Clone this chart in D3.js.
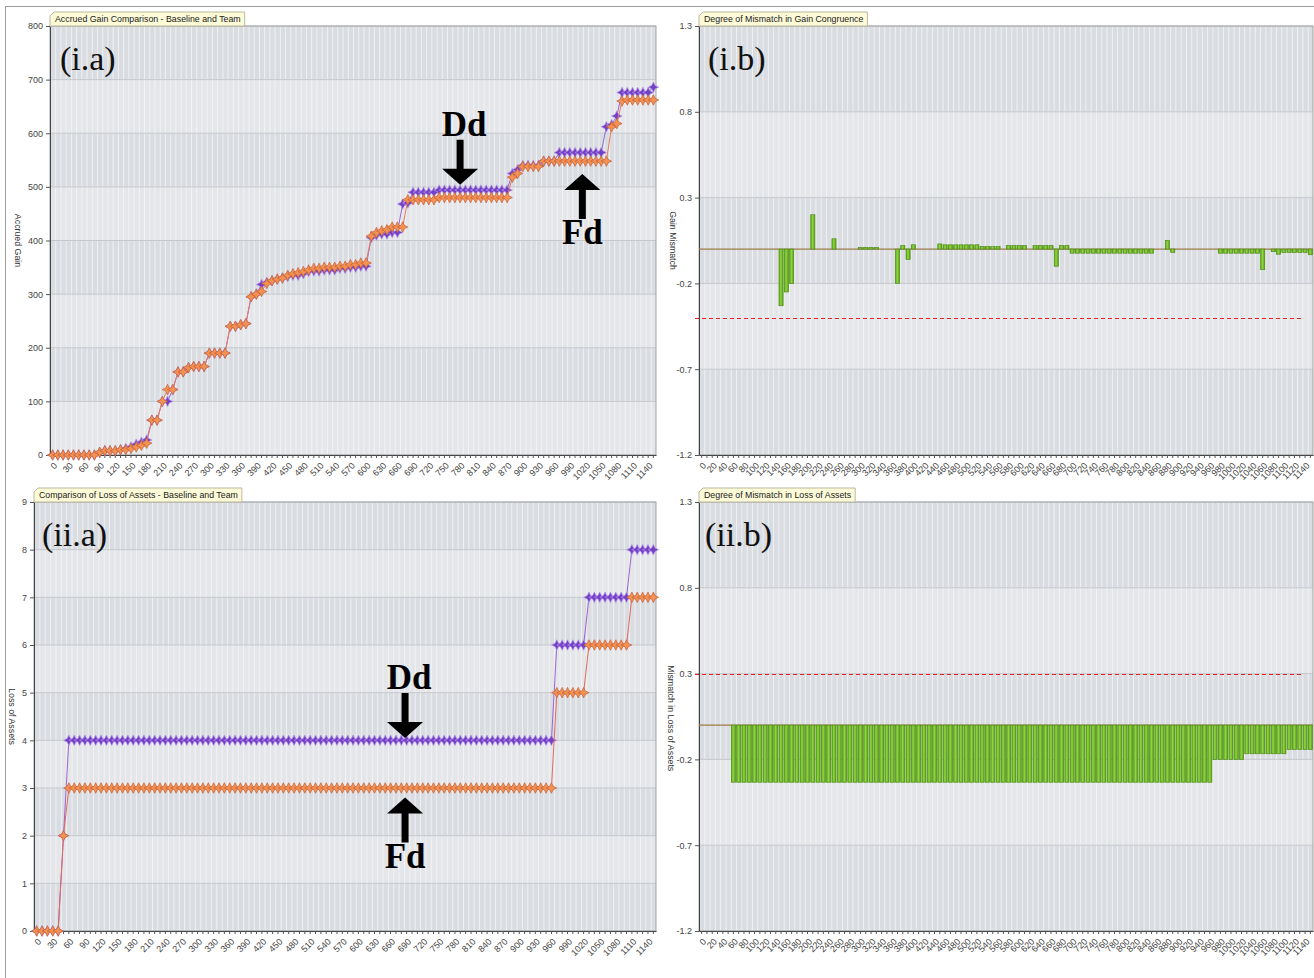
<!DOCTYPE html>
<html>
<head>
<meta charset="utf-8">
<script src="https://cdn.jsdelivr.net/npm/d3@7"></script>
<style>
body { margin: 0; background: #fff; }
svg { display: block; font-family: "Liberation Sans", Arial, sans-serif; }
</style>
</head>
<body>
<svg id="fig" width="1314" height="978"></svg>
<script>
// x categories shared by all four charts (time steps)
const categories = [
  0,10,20,30,40,50,60,70,80,90,100,110,120,130,140,150,160,170,180,190,
  200,210,220,230,240,250,260,270,280,290,300,310,320,330,340,350,360,370,380,390,
  400,410,420,430,440,450,460,470,480,490,500,510,520,530,540,550,560,570,580,590,
  600,610,620,630,640,650,660,670,680,690,700,710,720,730,740,750,760,770,780,790,
  800,810,820,830,840,850,860,870,880,890,900,910,920,930,940,950,960,970,980,990,
  1000,1010,1020,1030,1040,1050,1060,1070,1080,1090,1100,1110,1120,1130,1140,1150
];

// (i.a) accrued gain - purple series and orange series
const teamGain = [
  0,0,0,0,0,0,0,0,0,
  5,8,8,8,10,12,15,20,24,28,
  65,65,100,100,122,155,155,163,165,165,
  165,190,190,190,190,240,240,243,245,295,
  300,318,322,325,328,330,333,335,335,338,
  342,343,343,345,345,345,348,348,350,350,
  352,352,405,410,412,412,415,415,468,470,
  490,490,490,490,490,
  494,494,494,494,494,494,494,494,494,494,494,494,494,494,
  525,532,540,540,540,540,548,548,548,
  564,564,564,564,564,564,564,564,564,
  612,616,632,676,676,676,676,676,676,686
];
const baselineGain = [
  0,0,0,0,0,0,0,0,0,
  5,8,8,8,10,10,12,15,18,22,
  65,65,100,122,122,155,155,163,165,165,
  165,190,190,190,190,240,240,243,245,295,
  300,305,320,325,328,330,335,338,340,342,
  345,348,348,350,350,350,352,352,355,355,
  358,358,408,415,418,420,425,425,425,476,
  476,476,476,476,476,
  480,480,480,480,480,480,480,480,480,480,480,480,480,480,
  518,525,538,538,538,538,548,548,548,
  548,548,548,548,548,548,548,548,548,
  548,612,618,660,662,662,662,662,662,662
];

// (i.b) degree of mismatch in gain congruence
const gainMismatch = [
  0,0,0,0,0,0,0,0,0,0,0,0,0,0,0,
  -0.33,-0.25,-0.2,
  0,0,0,
  0.2,
  0,0,0,
  0.06,
  0,0,0,0,
  0.01,0.01,0.01,0.01,
  0,0,0,
  -0.2,0.02,-0.06,0.025,
  0,0,0,0,
  0.03,0.025,0.025,0.025,
  0.025,0.025,0.025,0.025,
  0.015,0.015,0.015,0.015,
  0,
  0.02,0.02,0.02,0.02,
  0,
  0.02,0.02,0.02,0.02,
  -0.1,0.02,0.02,
  -0.024,-0.024,-0.024,-0.024,-0.024,-0.024,-0.024,-0.024,
  -0.024,-0.024,-0.024,-0.024,-0.024,-0.024,-0.024,-0.024,
  0,0,
  0.05,-0.02,
  0,0,0,0,0,0,0,0,
  -0.024,-0.024,-0.024,-0.024,-0.024,-0.024,-0.024,-0.024,
  -0.12,0,-0.015,-0.03,
  -0.02,-0.02,-0.02,-0.02,-0.02,
  -0.033
];

// (ii.a) loss of assets - purple series and orange series
const teamLoss = [
  0,0,0,0,0,2,
  4,4,4,4,4,4,4,4,4,4, 4,4,4,4,4,4,4,4,4,4, 4,4,4,4,4,4,4,4,4,4,
  4,4,4,4,4,4,4,4,4,4, 4,4,4,4,4,4,4,4,4,4, 4,4,4,4,4,4,4,4,4,4,
  4,4,4,4,4,4,4,4,4,4, 4,4,4,4,4,4,4,4,4,4, 4,4,4,4,4,4,4,4,4,4,
  4,
  6,6,6,6,6,6,
  7,7,7,7,7,7,7,7,
  8,8,8,8,8
];
const baselineLoss = [
  0,0,0,0,0,2,
  3,3,3,3,3,3,3,3,3,3, 3,3,3,3,3,3,3,3,3,3, 3,3,3,3,3,3,3,3,3,3,
  3,3,3,3,3,3,3,3,3,3, 3,3,3,3,3,3,3,3,3,3, 3,3,3,3,3,3,3,3,3,3,
  3,3,3,3,3,3,3,3,3,3, 3,3,3,3,3,3,3,3,3,3, 3,3,3,3,3,3,3,3,3,3,
  3,
  5,5,5,5,5,5,
  6,6,6,6,6,6,6,6,
  7,7,7,7,7
];

// (ii.b) degree of mismatch in loss of assets
const lossMismatch = [
  0,0,0,0,0,0,
  -0.333,-0.333,-0.333,-0.333,-0.333,-0.333,-0.333,-0.333,-0.333,-0.333,
  -0.333,-0.333,-0.333,-0.333,-0.333,-0.333,-0.333,-0.333,-0.333,-0.333,
  -0.333,-0.333,-0.333,-0.333,-0.333,-0.333,-0.333,-0.333,-0.333,-0.333,
  -0.333,-0.333,-0.333,-0.333,-0.333,-0.333,-0.333,-0.333,-0.333,-0.333,
  -0.333,-0.333,-0.333,-0.333,-0.333,-0.333,-0.333,-0.333,-0.333,-0.333,
  -0.333,-0.333,-0.333,-0.333,-0.333,-0.333,-0.333,-0.333,-0.333,-0.333,
  -0.333,-0.333,-0.333,-0.333,-0.333,-0.333,-0.333,-0.333,-0.333,-0.333,
  -0.333,-0.333,-0.333,-0.333,-0.333,-0.333,-0.333,-0.333,-0.333,-0.333,
  -0.333,-0.333,-0.333,-0.333,-0.333,-0.333,-0.333,-0.333,-0.333,-0.333,
  -0.333,
  -0.2,-0.2,-0.2,-0.2,-0.2,-0.2,
  -0.167,-0.167,-0.167,-0.167,-0.167,-0.167,-0.167,-0.167,
  -0.143,-0.143,-0.143,-0.143,-0.143
];

// tick values
const gainTicks = [0,100,200,300,400,500,600,700,800];
const lossTicks = [0,1,2,3,4,5,6,7,8,9];
const mismatchTicks = [-1.2,-0.7,-0.2,0.3,0.8,1.3];

const svg = d3.select("#fig");

// gradient for the green bars
const grad = svg.append("defs").append("linearGradient")
  .attr("id", "barGrad").attr("x1", 0).attr("x2", 1).attr("y1", 0).attr("y2", 0);
grad.append("stop").attr("offset", "0%").attr("stop-color", "#5aa418");
grad.append("stop").attr("offset", "45%").attr("stop-color", "#8fd640");
grad.append("stop").attr("offset", "100%").attr("stop-color", "#589c17");

// outer figure frame
svg.append("rect")
  .attr("x", 5.5).attr("y", 6.5).attr("width", 1340).attr("height", 1000)
  .attr("fill", "none").attr("stroke", "#9d9d9d");

// 4-pointed star marker
const star4 = {
  draw(ctx, size) {
    const r = Math.sqrt(size) / 2, k = r * 0.33;
    ctx.moveTo(0, -r); ctx.lineTo(k, -k); ctx.lineTo(r, 0); ctx.lineTo(k, k);
    ctx.lineTo(0, r); ctx.lineTo(-k, k); ctx.lineTo(-r, 0); ctx.lineTo(-k, -k);
    ctx.closePath();
  }
};

// draws background, grid, axes, title tab and labels of one chart
function panel(p) {
  const g = svg.append("g");
  const x = d3.scaleBand().domain(categories).range([p.left, p.right]);
  const y = d3.scaleLinear().domain([p.ticks[0], p.ticks[p.ticks.length - 1]]).range([p.bottom, p.top]);

  // alternating horizontal bands
  const bands = d3.pairs(p.ticks);
  g.append("g").selectAll("rect").data(bands).join("rect")
    .attr("x", p.left).attr("width", p.right - p.left)
    .attr("y", d => y(d[1])).attr("height", d => y(d[0]) - y(d[1]))
    .attr("fill", (d, i) => (bands.length - 1 - i) % 2 ? "#e4e6e9" : "#d9dce0");

  // light vertical stripes, one per category
  g.append("g").selectAll("line").data(categories).join("line")
    .attr("x1", d => x(d) + 0.5).attr("x2", d => x(d) + 0.5)
    .attr("y1", p.top).attr("y2", p.bottom)
    .attr("stroke", "#f4f5f7").attr("stroke-opacity", 0.85);

  // horizontal gridlines
  g.append("g").selectAll("line").data(p.ticks).join("line")
    .attr("x1", p.left).attr("x2", p.right)
    .attr("y1", d => y(d)).attr("y2", d => y(d))
    .attr("stroke", "#c5c8cd");

  // plot frame
  g.append("rect")
    .attr("x", p.left).attr("y", p.top)
    .attr("width", p.right - p.left).attr("height", p.bottom - p.top)
    .attr("fill", "none").attr("stroke", "#a3a3a3");

  // x axis: a tick per category, a label every few
  const xAxis = g.append("g")
    .attr("transform", "translate(0," + p.bottom + ")")
    .call(d3.axisBottom(x).tickSize(3).tickSizeOuter(0)
      .tickFormat((d, i) => i % p.every === 0 ? d : ""));
  xAxis.selectAll("text")
    .attr("y", 0).attr("dy", "0.35em")
    .attr("transform", "translate(3,9) rotate(-45)")
    .style("text-anchor", "end");

  // y axis
  const yAxis = g.append("g")
    .attr("transform", "translate(" + p.left + ",0)")
    .call(d3.axisLeft(y).tickValues(p.ticks).tickSize(4).tickSizeOuter(0).tickFormat(d => d));

  [xAxis, yAxis].forEach(a => {
    a.attr("font-family", null).attr("font-size", null);
    a.selectAll("text").attr("fill", "#444").attr("font-size", 9);
    a.selectAll("line").attr("stroke", "#555");
    a.select(".domain").attr("stroke", "#444");
  });

  // y axis title
  g.append("text")
    .attr("transform", "translate(" + p.yTitleX + "," + y(p.yTitleAt) + ") rotate(90)")
    .attr("text-anchor", "middle").attr("dy", "0.35em")
    .attr("font-size", 8.8).attr("fill", "#333")
    .text(p.yTitle);

  // title tab above the plot
  const tab = g.append("g").attr("transform", "translate(" + p.left + "," + p.top + ")");
  const tt = tab.append("text")
    .attr("x", 5).attr("y", -4)
    .attr("font-size", 8.8).attr("fill", "#222")
    .text(p.title);
  const tw = tt.node().getComputedTextLength() + 9;
  tab.insert("path", "text")
    .attr("d", "M0,0V-10L4,-14H" + tw + "V0Z")
    .attr("fill", "#fcfad7").attr("stroke", "#bdb9a0");

  // panel tag like (i.a)
  g.append("text")
    .attr("x", p.left + p.tagDx).attr("y", p.top + 44)
    .attr("font-family", "'Liberation Serif', 'Times New Roman', serif")
    .attr("font-size", 34).attr("fill", "#111")
    .text(p.tag);

  return { g, x, y };
}

function drawSeries(c, values, lineColor, fill, edge) {
  const cx = (d, i) => c.x(categories[i]) + c.x.bandwidth() / 2;
  c.g.append("path").datum(values)
    .attr("d", d3.line().x(cx).y(d => c.y(d)))
    .attr("fill", "none").attr("stroke", lineColor).attr("stroke-width", 1);
  c.g.append("g").selectAll("path").data(values).join("path")
    .attr("transform", (d, i) => "translate(" + cx(d, i) + "," + c.y(d) + ")")
    .attr("d", d3.symbol(star4, 110))
    .attr("fill", fill).attr("stroke", edge).attr("stroke-width", 0.7);
}

function drawBars(c, values, limit) {
  const [x0, x1] = c.x.range();
  c.g.append("line")
    .attr("x1", x0).attr("x2", x1).attr("y1", c.y(0)).attr("y2", c.y(0))
    .attr("stroke", "#9c7c48").attr("stroke-width", 1.2);
  const rows = categories.map((cat, i) => ({ cat, v: values[i] })).filter(d => d.v !== 0);
  c.g.append("g").selectAll("rect").data(rows).join("rect")
    .attr("x", d => c.x(d.cat) + 0.6).attr("width", c.x.bandwidth() - 1.2)
    .attr("y", d => c.y(Math.max(0, d.v)))
    .attr("height", d => Math.abs(c.y(d.v) - c.y(0)))
    .attr("fill", "url(#barGrad)").attr("stroke", "#4e8e16").attr("stroke-width", 0.7);
  c.g.append("line")
    .attr("x1", x0 - 4).attr("x2", x1 - 10).attr("y1", Math.round(c.y(limit)) + 0.5).attr("y2", Math.round(c.y(limit)) + 0.5)
    .attr("stroke", "#f01e1e").attr("stroke-width", 1.2).attr("stroke-dasharray", "4,3");
}

// black block arrow with a bold label (Dd / Fd)
function annotate(c, cat, value, dir, label) {
  const bw = c.x.bandwidth() / 2;
  const xl = d3.scaleLinear()
    .domain([categories[0], categories[categories.length - 1]])
    .range([c.x(categories[0]) + bw, c.x(categories[categories.length - 1]) + bw]);
  const ax = xl(cat), ay = c.y(value);
  const s = dir === "down" ? 1 : -1;
  c.g.append("path")
    .attr("transform", "translate(" + ax + "," + ay + ") scale(1," + s + ")")
    .attr("d", "M0,0L-18,-16H-3.5V-45H3.5V-16H18Z")
    .attr("fill", "#000");
  c.g.append("text")
    .attr("x", ax + (dir === "down" ? 4 : 0))
    .attr("y", dir === "down" ? ay - 49 : ay + 70)
    .attr("text-anchor", "middle")
    .attr("font-family", "'Liberation Serif', 'Times New Roman', serif")
    .attr("font-weight", "bold").attr("font-size", 35).attr("fill", "#000")
    .text(label);
}

// (i.a)
const ca = panel({
  left: 50, right: 656, top: 26, bottom: 455, ticks: gainTicks, every: 3,
  title: "Accrued Gain Comparison - Baseline and Team",
  yTitle: "Accrued Gain", yTitleX: 18, yTitleAt: 400, tag: "(i.a)", tagDx: 10
});
drawSeries(ca, teamGain, "#9666d6", "#7340c6", "#b597ea");
drawSeries(ca, baselineGain, "#e87b5e", "#f39152", "#c45f3a");
annotate(ca, 780, 504, "down", "Dd");
annotate(ca, 1014, 524, "up", "Fd");

// (i.b)
const cb = panel({
  left: 699, right: 1313, top: 26, bottom: 455, ticks: mismatchTicks, every: 2,
  title: "Degree of Mismatch in Gain Congruence",
  yTitle: "Gain Mismatch", yTitleX: 673, yTitleAt: 0.05, tag: "(i.b)", tagDx: 9
});
drawBars(cb, gainMismatch, -0.4);

// (ii.a)
const cc = panel({
  left: 34, right: 656, top: 502, bottom: 931, ticks: lossTicks, every: 3,
  title: "Comparison of Loss of Assets - Baseline and Team",
  yTitle: "Loss of Assets", yTitleX: 12, yTitleAt: 4.5, tag: "(ii.a)", tagDx: 8
});
drawSeries(cc, teamLoss, "#9b62d2", "#7340c6", "#b597ea");
drawSeries(cc, baselineLoss, "#e06a5c", "#f39152", "#c45f3a");
annotate(cc, 687, 4.05, "down", "Dd");
annotate(cc, 687, 2.8, "up", "Fd");

// (ii.b)
const cd = panel({
  left: 699, right: 1313, top: 502, bottom: 931, ticks: mismatchTicks, every: 2,
  title: "Degree of Mismatch in Loss of Assets",
  yTitle: "Mismatch in Loss of Assets", yTitleX: 671, yTitleAt: 0.04, tag: "(ii.b)", tagDx: 6
});
drawBars(cd, lossMismatch, 0.3);
</script>
</body>
</html>
